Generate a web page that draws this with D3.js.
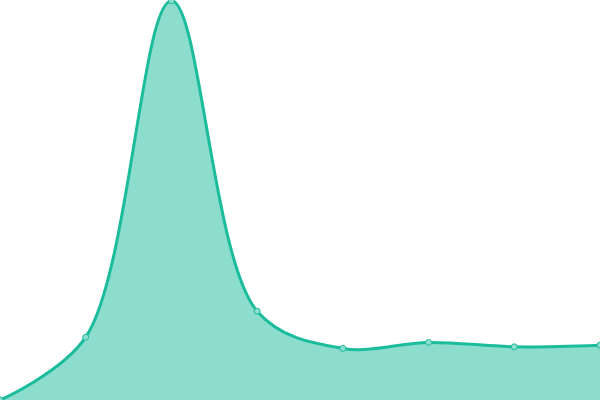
<!DOCTYPE html>
<html>
<head>
<meta charset="utf-8">
<script src="https://cdn.jsdelivr.net/npm/d3@7"></script>
<style>
html,body{margin:0;padding:0;background:#fff;}
svg{display:block;}
</style>
</head>
<body>
<svg id="chart" width="600" height="400"></svg>
<script>
const labels = ["A","B","C","D","E","F","G","H"];
const values = [0, 15.7, 99.8, 22.2, 12.9, 14.4, 13.3, 13.7];

const width = 600, height = 400;
const svg = d3.select("#chart");

const x = d3.scalePoint().domain(labels).range([0, width]);
const y = d3.scaleLinear().domain([0, 100]).range([height, 0]);

const data = labels.map((l, i) => ({label: l, value: values[i]}));
const curve = d3.curveCatmullRom.alpha(0.5);

const area = d3.area()
  .x(d => x(d.label))
  .y0(y(0))
  .y1(d => y(d.value))
  .curve(curve);

const line = d3.line()
  .x(d => x(d.label))
  .y(d => y(d.value))
  .curve(curve);

svg.append("path").datum(data)
  .attr("d", area)
  .attr("fill", "#1abc9c")
  .attr("fill-opacity", 0.5);

svg.append("path").datum(data)
  .attr("d", line)
  .attr("fill", "none")
  .attr("stroke", "#1abc9c")
  .attr("stroke-width", 3);

svg.selectAll("circle").data(data).enter().append("circle")
  .attr("cx", d => x(d.label))
  .attr("cy", d => y(d.value))
  .attr("r", 3)
  .attr("fill", "#8ddece")
  .attr("stroke", "#1abc9c")
  .attr("stroke-width", 1);
</script>
</body>
</html>
